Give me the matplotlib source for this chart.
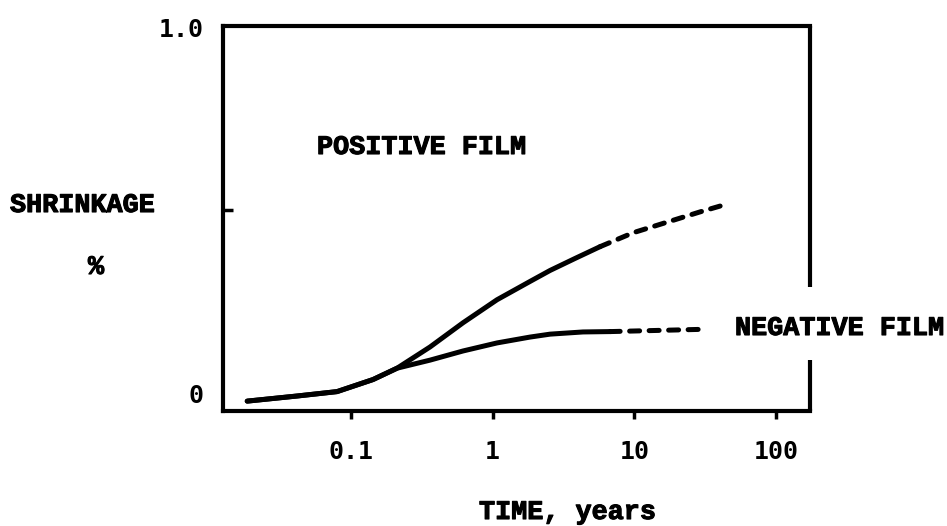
import matplotlib
matplotlib.use("Agg")
import matplotlib.pyplot as plt
import matplotlib.patheffects as pe
from matplotlib.ticker import NullLocator, FixedLocator

# ---- data ----
pos_solid_x = [0.0186, 0.0419, 0.080, 0.1435, 0.212, 0.362, 0.618, 1.074, 1.835, 2.54, 3.82, 5.72]
pos_solid_y = [-0.022, -0.008, 0.004, 0.037, 0.068, 0.126, 0.192, 0.255, 0.305, 0.335, 0.368, 0.400]
pos_dash_x = [5.72, 9.78, 17.0, 29.0, 40.2]
pos_dash_y = [0.400, 0.438, 0.467, 0.495, 0.511]

neg_solid_x = [0.0186, 0.0419, 0.080, 0.1435, 0.212, 0.362, 0.618, 1.074, 1.835, 2.54, 4.34, 6.74]
neg_solid_y = [-0.022, -0.008, 0.004, 0.037, 0.068, 0.090, 0.115, 0.137, 0.153, 0.161, 0.167, 0.168]
neg_dash_x = [6.74, 29.0]
neg_dash_y = [0.168, 0.174]

xticks = [0.1, 1, 10, 100]
xticklabels = ["0.1", "1", "10", "100"]
yticks = [0, 1.0]
yticklabels = ["0", "1.0"]
yminor = [0.5]

W, H = 947, 526
fig = plt.figure(figsize=(W / 100, H / 100), dpi=100)
L, R, B, T = 223, 810, 411, 26
ax = fig.add_axes([L / W, 1 - B / H, (R - L) / W, (B - T) / H])

ax.set_xscale("log")
ax.set_xlim(0.01255, 173)
ax.set_ylim(-0.049, 1.003)

lw = 3.6
kw = dict(color="black", lw=lw, solid_capstyle="round", dash_capstyle="round",
          solid_joinstyle="round")
ax.plot(pos_solid_x, pos_solid_y, **kw)
ax.plot(neg_solid_x, neg_solid_y, **kw)
ax.plot(pos_dash_x, pos_dash_y, dashes=(2.0, 1.9), **kw)
ax.plot(neg_dash_x, neg_dash_y, dashes=(2.0, 1.9), **kw)

# spines
for s in ["left", "bottom", "top"]:
    ax.spines[s].set_linewidth(3)
ax.spines["right"].set_visible(False)
g_lo, g_hi = (B - 360) / (B - T), (B - 287) / (B - T)
for y0, y1 in [(0, g_lo), (g_hi, 1.0)]:
    ax.plot([1, 1], [y0, y1], transform=ax.transAxes, color="black", lw=3,
            clip_on=False, solid_capstyle="butt")

num_font = dict(family="DejaVu Sans Mono", weight="bold", size=18)
txt_font = dict(family="Liberation Mono", weight="bold", size=19.3)
thick = [pe.withStroke(linewidth=0.8, foreground="black")]

ax.xaxis.set_major_locator(FixedLocator(xticks))
ax.xaxis.set_minor_locator(NullLocator())
ax.set_xticklabels(xticklabels, fontdict=num_font)
ax.tick_params(axis="x", which="major", direction="out", length=6, width=2.5, pad=15)

ax.yaxis.set_major_locator(FixedLocator(yticks))
ax.set_yticklabels(yticklabels, fontdict=num_font)
ax.yaxis.set_minor_locator(FixedLocator(yminor))
ax.tick_params(axis="y", which="major", length=0, pad=14)
ax.tick_params(axis="y", which="minor", direction="in", length=7, width=2.5)

ax.text((421 - L) / (R - L), (B - 147) / (B - T), "POSITIVE FILM", transform=ax.transAxes,
        ha="center", va="center", fontdict=txt_font, path_effects=thick)
ax.text((735 - L) / (R - L), (B - 328) / (B - T), "NEGATIVE FILM", transform=ax.transAxes,
        ha="left", va="center", fontdict=txt_font, path_effects=thick, clip_on=False)

fig.text(82 / W, 1 - 205 / H, "SHRINKAGE", ha="center", va="center", fontdict=txt_font,
         path_effects=thick)
fig.text(96 / W, 1 - 267 / H, "%", ha="center", va="center", fontdict=txt_font,
         path_effects=thick)
fig.text(567 / W, 1 - 512 / H, "TIME, years", ha="center", va="center", fontdict=txt_font,
         path_effects=thick)

fig.savefig("out.png", dpi=100, facecolor="white")
